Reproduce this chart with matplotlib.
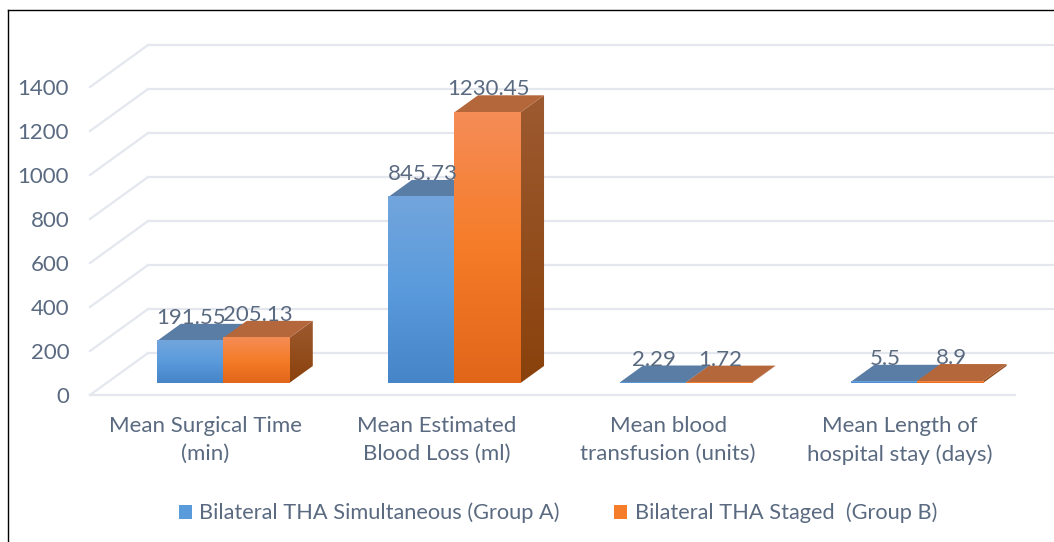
"""Pseudo 3D clustered column chart, comparing the two THA groups."""
import matplotlib
matplotlib.use('Agg')
import matplotlib.pyplot as plt
import numpy as np
from matplotlib.colors import LinearSegmentedColormap
from matplotlib.lines import Line2D
from matplotlib.patches import Patch, Polygon

categories = ['Mean Surgical Time\n(min)', 'Mean Estimated\nBlood Loss (ml)',
              'Mean blood\ntransfusion (units)',
              'Mean Length of\nhospital stay (days)']
group_a = [191.55, 845.73, 2.29, 5.5]
group_b = [205.13, 1230.45, 1.72, 8.9]
value_labels_a = ['191.55', '845.73', '2.29', '5.5']
value_labels_b = ['205.13', '1230.45', '1.72', '8.9']
series_names = ['Bilateral THA Simultaneous (Group A)',
                'Bilateral THA Staged  (Group B)']
yticks = [0, 200, 400, 600, 800, 1000, 1200, 1400]

TEXT = '#5a6a80'
GRID = '#e4e7ee'
W, H = 1054, 542

# how far the back wall sits from the front plane, in data units
WALL_DX = 58 / 231.
WALL_DY = 42 / 0.22
BAR_W = 66 / 231.
BAR_FRONT = 12 / 42.
BAR_BACK = 29 / 42.
BAR_SHIFT = 1 / 231.

BLUE = dict(front=['#4585c8', '#5a9bdc', '#72a5dd'],
            side=['#2f5f90', '#4a78a8'], top='#5a7da6')
ORANGE = dict(front=['#e2661a', '#f57c28', '#f58c56'],
              side=['#8a420c', '#9d5a30'], top='#b5673c')


def project(x, val, depth):
    """Move a point on the front plane back into the chart"""
    return x + depth * WALL_DX, val + depth * WALL_DY


def gradient(ax, extent, colors, zorder, clip=None):
    """Vertical colour ramp, first colour at the bottom"""
    cmap = LinearSegmentedColormap.from_list('ramp', colors)
    img = ax.imshow(np.linspace(1, 0, 64).reshape(-1, 1), extent=extent,
                    cmap=cmap, aspect='auto', zorder=zorder,
                    interpolation='bilinear')
    if clip is not None:
        img.set_clip_box(None)
        img.set_clip_path(clip)


def draw_bar(ax, x0, val, style, zorder):
    """One box: side, top and then the front face"""
    x1 = x0 + BAR_W
    front = [project(x0, 0, BAR_FRONT), project(x1, 0, BAR_FRONT),
             project(x1, val, BAR_FRONT), project(x0, val, BAR_FRONT)]
    side = [project(x1, 0, BAR_FRONT), project(x1, 0, BAR_BACK),
            project(x1, val, BAR_BACK), project(x1, val, BAR_FRONT)]
    top = [project(x0, val, BAR_FRONT), project(x1, val, BAR_FRONT),
           project(x1, val, BAR_BACK), project(x0, val, BAR_BACK)]
    poly = Polygon(side, closed=True, fc='none', ec='none', zorder=zorder)
    ax.add_patch(poly)
    gradient(ax, [side[0][0], side[1][0], side[0][1], side[2][1]],
             style['side'], zorder, clip=poly)
    ax.add_patch(Polygon(top, closed=True, fc=style['top'], ec='none',
                         zorder=zorder + 0.1))
    gradient(ax, [front[0][0], front[1][0], front[0][1], front[2][1]],
             style['front'], zorder + 0.2)


fig = plt.figure(figsize=(W / 100., H / 100.), dpi=100, facecolor='white')
plt.rcParams['font.family'] = ['Lato', 'DejaVu Sans']
ax = fig.add_axes([90. / W, (H - 395.) / H, 925. / W, 308. / H])
ax.patch.set_visible(False)

# walls
for tick in yticks:
    ax.plot(*zip(project(0, tick, 0), project(0, tick, 1)), color=GRID,
            lw=1.6, clip_on=False, zorder=1)
    ax.plot(*zip(project(0, tick, 1), project(4, tick, 1)), color=GRID,
            lw=1.6, clip_on=False, zorder=1)
ax.plot([0, 4], [0, 0], color=GRID, lw=1.6, clip_on=False, zorder=1)

# columns
centers = np.arange(len(categories)) + 0.5
for i, center in enumerate(centers):
    mid = center + BAR_SHIFT
    draw_bar(ax, mid - BAR_W, group_a[i], BLUE, 3 + i)
    draw_bar(ax, mid, group_b[i], ORANGE, 3.5 + i)
    for val, lab, x0 in [(group_a[i], value_labels_a[i], mid - BAR_W),
                         (group_b[i], value_labels_b[i], mid)]:
        ax.annotate(lab, project(x0 + BAR_W / 2., val, BAR_BACK),
                    xytext=(-16, -3), textcoords='offset points', ha='center',
                    va='bottom', fontsize=16, color=TEXT, zorder=20,
                    annotation_clip=False)

ax.set_xlim(0, 4)
ax.set_ylim(0, 1400)
ax.set_xticks(centers)
ax.set_xticklabels(categories, fontsize=16, color=TEXT, linespacing=1.5)
ax.set_yticks(yticks)
ax.tick_params(axis='both', length=0, labelsize=16, labelcolor=TEXT)
ax.tick_params(axis='x', pad=15)
ax.tick_params(axis='y', pad=15)
for spine in ax.spines.values():
    spine.set_visible(False)

handles = [Patch(fc='#5a9bdc', ec='none'), Patch(fc='#f57c28', ec='none')]
fig.legend(handles, series_names, ncol=2, loc='center', frameon=False,
           bbox_to_anchor=(558. / W, (H - 513.) / H), fontsize=15.7,
           labelcolor=TEXT, handlelength=0.6, handleheight=0.6,
           handletextpad=0.35, columnspacing=2.5)

# black border of the original screenshot
fig.add_artist(Line2D([8. / W, 8. / W], [0, (H - 10.) / H], color='black',
                      lw=1.0))
fig.add_artist(Line2D([8. / W, 1], [(H - 10.) / H, (H - 10.) / H],
                      color='black', lw=1.0))

fig.savefig('out.png', dpi=100)
